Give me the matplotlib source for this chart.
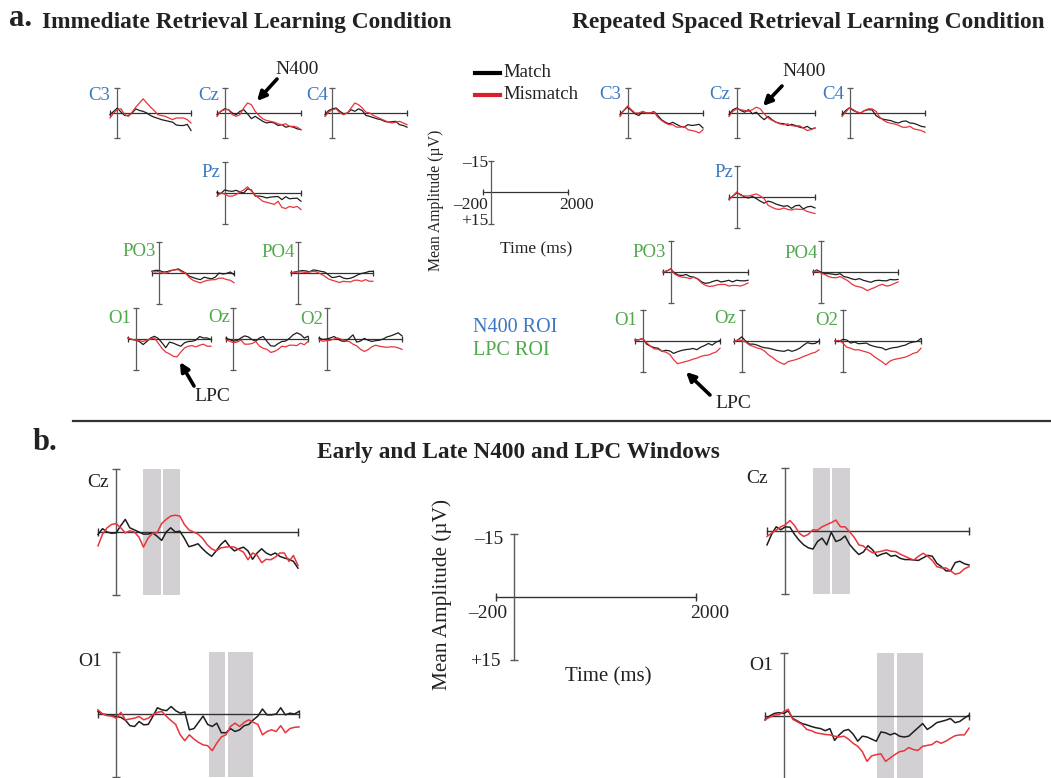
import numpy as np
import matplotlib.pyplot as plt

plt.rcParams['font.family'] = ['Liberation Serif', 'DejaVu Serif']

# time grids (ms)
t_a = np.arange(-200, 2001, 100)
t_b = np.arange(-200, 2001, 50)

# ---- a. Immediate retrieval (uV) ----
imm_c3_match = [1, -1, -3, -0.5, 1.5, 1.5, 0, -2.5, -1.5, -1, 0, 1.5, 2.5, 3.2, 4, 4.5, 5, 5.5, 7.2, 7.5, 7.5, 6.8, 10.5]
imm_c3_mismatch = [3, 0, -2, -2.5, 1, 2, -0.5, -3.5, -6, -8.5, -6, -3.5, -1.5, 1, 1.5, 2, 3, 4, 3, 3, 3, 4, 6]
imm_cz_match = [1, -1, -2.5, -2, 0, 1, -1, -2, 0.5, 3.4, 2, 3.5, 5, 6, 5.5, 6, 7.5, 7, 8.5, 8, 8.5, 9.5, 10]
imm_cz_mismatch = [2, -1, -2, -2, 1, 2, 1, -3, -6, -5, -1, 1.5, 3.5, 4.5, 5, 5.5, 6.5, 7, 6.5, 8, 8, 8.5, 10]
imm_c4_match = [1, -1.5, -2.5, -3, -1, 0.5, 0, -2, -1, -2.5, -1.5, 1.5, 2, 2.8, 3.5, 4, 5, 5.5, 5.2, 5, 7, 7.5, 8.5]
imm_c4_mismatch = [2, -0.5, -2, -2.5, 0, 1, 0, -3, -6, -5, -3, -0.5, 0, 1.5, 2.5, 3.5, 4.5, 5.5, 6, 5.5, 5, 6, 7]
imm_pz_match = [-0.3, 0.3, -1.5, -1, -0.8, -1.3, -0.5, 0, -2, -1.5, 1.5, 1.5, 1.8, 2.4, 2, 1.8, 1.7, 3.2, 1.8, 2.8, 2.6, 2.5, 4]
imm_pz_mismatch = [1.6, 0, 0.5, 1.5, 1.5, 0.8, -0.5, -1.5, -3, -1, 1, 2.5, 4, 4.5, 5, 5.5, 4, 7, 7.5, 6.5, 7, 6.5, 8]
imm_po3_match = [-0.8, -1.3, -1.2, -0.5, -0.6, -1.2, -1.5, -2, -1, 0, 1.5, 2.2, 2.8, 3.2, 2, 2.5, 2.8, 2, 0, 0.5, 0.2, -0.5, 0.8]
imm_po3_mismatch = [-0.8, -0.5, -0.8, 0.2, 0, -1, -1.5, -1.6, -0.5, 0, 2.2, 3.5, 4.2, 4.8, 4, 3.5, 3.3, 3.2, 2.5, 2.5, 3.2, 3.5, 4.7]
imm_po4_match = [0, -0.5, -0.8, -1.2, -1, -0.6, -1.5, -1.2, -0.8, -0.5, 0.8, 2.2, 2, 1.5, 2.4, 2.8, 2.5, 1.8, 0.8, 0.2, -0.2, -0.8, -0.8]
imm_po4_mismatch = [0, -0.3, -0.6, -0.5, -0.2, -0.5, -0.8, -0.5, 0.5, 1.5, 2.8, 3.5, 4, 4.6, 4, 4.2, 4.3, 3.5, 3.5, 4, 3.2, 4, 4]
imm_o1_match = [-0.5, 0.2, 0.5, 1.2, 2.7, 1.2, -0.5, -1.3, -0.3, 1.8, 4.2, 1.5, 2, 2.8, 3.5, 1.8, 1.2, 1.1, 0.5, -1.2, -0.5, -0.5, 0.3]
imm_o1_mismatch = [-0.5, 0.2, 0.5, 0.8, 1.2, 0.5, 0, -0.5, 2, 4.5, 6.3, 7.2, 8.4, 8.6, 6.3, 4.3, 3.5, 3.2, 3.8, 3, 2.5, 3.5, 3.5]
imm_oz_match = [-0.5, 0.3, 1, 0.8, -0.5, -1.5, -1, 0.3, 1, -0.5, -1.2, 1.2, 3.3, 3.5, 2.2, 1.2, 1, -0.3, -2, -3, -2.2, -0.5, -1.3]
imm_oz_mismatch = [0.3, 1.1, 1.8, 1.5, 0.5, 2.5, 2.5, 2.2, 1.2, 3.5, 4.5, 5, 6.5, 6, 5, 3.5, 3.8, 3, 3, 3.2, 2, 2.8, 1.2]
imm_o2_match = [-0.5, 0.2, 0, -0.5, -1.2, 0, 1, 1.2, -0.3, -2, 1.5, 1, -0.3, 0.6, 1.2, 0.8, 0.6, 0, -1, -1.5, -2.2, -3, -1.5]
imm_o2_mismatch = [0.3, 1.1, 0.8, 0.6, 0, -0.5, 0.2, 1, 1.2, 2.5, 3.3, 5, 6, 5.2, 3.8, 3, 3.5, 3.8, 4, 3.8, 3.8, 4.3, 5]

# ---- a. Repeated spaced retrieval ----
rep_c3_match = [1, -1.5, -3.5, -1.5, 0.5, 1.5, -0.8, 0, 0, -0.8, 1.5, 4, 5.5, 6.5, 5.6, 6.8, 8, 8.5, 7, 7.5, 7.2, 6.8, 9]
rep_c3_mismatch = [2, -1.5, -4.2, -2, 0, 0, -1, 0, 0, -0.8, 2.5, 4.5, 6, 7, 7, 8.5, 8.5, 8, 10, 10.5, 11, 12, 10]
rep_cz_match = [1, -2, -3, -1.5, -0.5, -2, 0.5, -0.5, 2, 4, 2, 4, 5.5, 6.2, 6.4, 7.5, 6.8, 7.5, 8.5, 9, 8, 9.6, 9]
rep_cz_mismatch = [2, -1, -2.5, -2, -1.5, -1, -2, -3.5, -2.5, 0.5, 3, 4.4, 5.5, 6.5, 7, 6.5, 7.5, 8, 7.6, 9, 10.5, 10, 9]
rep_c4_match = [1, -1.5, -3.2, -1.5, -0.5, 0, -1.5, -2, -1.8, 1.5, 3, 3.8, 4.2, 4.6, 5.5, 6, 5, 4.8, 6, 6.2, 7, 8, 8.4]
rep_c4_mismatch = [2, -0.5, -3.2, -2, -0.5, 0, -1.5, -2.5, -2.5, -1, 2.5, 4.4, 5.6, 6.2, 6.6, 7.4, 8.5, 8.6, 8, 9.5, 10, 10.5, 11.6]
rep_pz_match = [1, -0.5, -2, -1.2, 0, 0.5, -0.3, 0.8, 2, 3, 2, 2.5, 3.4, 4, 4.5, 4.2, 5.5, 4.2, 4, 5.8, 4.8, 4.5, 5.3]
rep_pz_mismatch = [1.3, -0.5, -2.5, -0.8, -0.5, -0.5, -1, -1.5, -0.5, 0.8, 4, 5, 5.8, 6, 5.3, 6, 6.3, 5.8, 6, 6, 7, 7.5, 8]
rep_po3_match = [0, -0.5, -1.5, 0.5, 1.5, 1.7, 1.2, 2.2, 2.5, 3.3, 4.8, 5.5, 5.2, 4.5, 4, 4.8, 4.5, 4, 4.8, 4, 4.2, 4.3, 4]
rep_po3_mismatch = [0, -0.5, -1.5, 1, 2, 2.5, 2.7, 3.2, 2.5, 3.5, 5.3, 6.5, 7, 6.8, 6.2, 6, 6, 6.8, 6.5, 6.5, 6.8, 6.2, 5.3]
rep_po4_match = [0, -1, 0, 0.8, 0.8, 1, 1.3, 0.8, 2.2, 2.6, 3.3, 3.7, 3.2, 4, 4.5, 5, 4.2, 4, 4.2, 4.3, 3.6, 3.8, 3.6]
rep_po4_mismatch = [0, -0.5, 0.5, 1.2, 2.2, 2.7, 2.8, 2.2, 3.2, 4.2, 5.8, 6.8, 7.2, 7.8, 9, 8.2, 7.5, 6.5, 6, 6.8, 6.5, 5.6, 4.8]
rep_o1_match = [-0.5, -0.6, -1.2, 1.5, 2.5, 3.2, 3.5, 5, 4.5, 4.8, 6, 5.2, 4.6, 4.2, 4, 3.6, 4.2, 3, 2.2, 1.2, 2, 0.5, -0.2]
rep_o1_mismatch = [-0.5, -0.6, -1.2, 0.8, 2.5, 3.8, 4, 5, 5.4, 6.5, 9, 11, 10.5, 10, 9.5, 8.8, 8.3, 7.5, 7, 6.8, 6, 5.3, 3.5]
rep_oz_match = [0.3, -0.5, -2, 0, 1.5, 1.5, 2, 2.8, 3.3, 3.5, 4, 4.5, 4.8, 5, 4.3, 5, 4.4, 3.5, 2, 0.8, 1.3, 1.2, 0]
rep_oz_mismatch = [0.3, -0.5, -0.3, 0.5, 2, 2.6, 3.4, 3.8, 5, 6.8, 8, 9.5, 10.5, 11.3, 10, 9.5, 9, 8.3, 7.5, 6.8, 6, 5.5, 4.3]
rep_o2_match = [0, 0.3, -0.8, -0.5, 1, 0.5, 1.3, 1.2, 1, 2, 2.6, 3, 3.3, 4.3, 3.6, 3.2, 3, 2.4, 2, 1, 0.5, 0.2, -1.2]
rep_o2_mismatch = [0, -0.3, 1, 3, 3.5, 4.3, 4.2, 4.8, 5.3, 6, 7.5, 8.8, 10, 11.5, 9.8, 9, 8.6, 8.2, 7.8, 7, 6, 5.5, 3.5]

# ---- b. enlarged Cz / O1 ----
imm_b_cz_match = [0.6, -0.8, 0.0, 0.3, 0.2, -1.5, -3.0, -1.0, -0.5, 0.0,
                  0.5, 0.5, 0.2, 1.0, 2.0, 0.0, -1.0, 0.0, -0.2, 1.5,
                  3.5, 3.2, 2.8, 4.0, 5.0, 5.8, 4.5, 3.0, 2.0, 3.5,
                  4.5, 4.0, 3.6, 4.5, 6.5, 5.0, 4.0, 5.0, 5.5, 5.0,
                  5.8, 6.2, 6.5, 7.0, 8.6]
imm_b_cz_mismatch = [3.3, 0.5, -1.0, -1.8, -2.0, -1.0, 0.2, -0.3, 0.0, 1.2,
                     3.6, 1.5, 0.3, 0.2, -2.0, -3.0, -3.8, -4.0, -3.8, -1.8,
                     -0.5, 0.0, 0.5, 1.5, 3.0, 4.0, 4.5, 3.8, 3.6, 3.5,
                     3.6, 4.2, 4.8, 6.6, 5.0, 5.5, 7.3, 6.5, 6.6, 6.0,
                     5.0, 5.0, 7.0, 5.6, 8.0]
imm_b_o1_match = [-0.6, 0.0, 0.2, 0.4, 0.6, 0.8, 1.5, 2.8, 3.0, 1.8,
                  2.6, 2.5, 0.6, -1.5, -1.0, -0.8, -1.8, -0.8, -0.2, -0.5,
                  3.8, 3.5, 2.0, 0.5, 2.5, 3.0, 2.2, 4.5, 4.5, 3.5,
                  4.2, 3.8, 2.8, 2.5, 1.4, 0.5, -1.2, 0.2, 0.2, 0.0,
                  -1.5, 0.2, -0.2, 0.0, -0.6]
imm_b_o1_mismatch = [-1.0, 0.0, 0.4, 0.5, 1.0, -0.4, 1.4, 1.2, 1.0, 0.6,
                     1.4, 1.0, 0.2, -0.4, -0.6, 0.6, 1.6, 2.5, 5.0, 6.4,
                     5.0, 6.0, 6.8, 7.4, 7.6, 8.8, 7.0, 5.5, 5.0, 3.0,
                     2.2, 3.0, 2.0, 1.4, 2.0, 2.5, 5.0, 4.2, 3.8, 4.2,
                     2.8, 4.5, 3.5, 3.2, 3.1]
rep_b_cz_match = [3.3, 0.8, -1.0, -0.3, -1.0, -0.9, 0.8, 2.2, 3.3, 4.0,
                  4.3, 2.5, 1.7, 3.3, 0.3, 2.5, 2.1, 1.2, 3.2, 4.5,
                  5.6, 5.0, 3.5, 4.5, 6.0, 5.5, 5.2, 6.0, 5.8, 6.5,
                  6.8, 6.8, 6.9, 7.0, 6.4, 5.8, 6.0, 7.7, 8.5, 9.5,
                  9.5, 7.5, 7.2, 7.8, 8.1]
rep_b_cz_mismatch = [1.3, 0.5, -0.2, -1.0, -1.5, -2.5, -1.3, 0.5, 1.3, 0.8,
                     -0.3, -0.2, -1.0, -1.5, -2.0, -2.6, -1.0, -1.0, 0.2, 1.5,
                     3.3, 3.6, 4.5, 5.2, 5.0, 4.8, 4.5, 4.8, 4.9, 5.5,
                     6.0, 6.5, 6.9, 6.0, 5.3, 6.0, 7.0, 8.5, 8.8, 8.8,
                     9.5, 10.3, 10.0, 9.0, 8.5]
rep_b_o1_match = [0.9, 0.0, -0.6, -0.8, -0.6, -1.2, 0.6, 1.2, 1.8, 2.1,
                  2.5, 2.8, 3.0, 3.5, 3.0, 5.8, 4.5, 3.5, 3.2, 4.3,
                  6.0, 4.8, 5.0, 5.5, 6.0, 3.8, 4.0, 4.5, 4.1, 4.8,
                  5.0, 4.8, 3.8, 2.8, 1.8, 3.2, 2.5, 1.6, 1.3, 1.0,
                  0.6, 1.6, 1.3, 0.5, -0.2]
rep_b_o1_mismatch = [0.9, 0.3, -0.2, -0.3, -1.0, -1.6, 0.8, 1.4, 2.0, 3.2,
                     3.5, 4.0, 4.2, 4.4, 4.5, 4.8, 5.0, 4.8, 5.5, 6.5,
                     7.2, 8.5, 10.8, 9.5, 9.2, 9.0, 10.8, 10.0, 9.2, 8.5,
                     8.3, 7.5, 8.0, 8.2, 7.2, 7.0, 6.8, 6.0, 6.5, 6.0,
                     5.3, 4.7, 4.5, 4.5, 2.9]

# analysis windows (ms)
cz_windows = [(300, 490), (510, 700)]
o1_windows = [(1010, 1195), (1220, 1500)]

W, H = 1051, 778
BLUE = '#3b78c1'
GREEN = '#4fa84b'
RED = '#e8343c'
BLACK = '#1e1e1e'
SHADE = '#d3d0d3'

fig = plt.figure(figsize=(W / 100, H / 100), dpi=100)
ov = fig.add_axes([0, 0, 1, 1])
ov.set_xlim(0, W)
ov.set_ylim(H, 0)
ov.axis('off')


def panel(x0, x1, yz, hh, lw=0.9, cap=4):
    # one ERP axis cross: -200..2000 ms horizontally, -15 (up) .. +15 (down)
    ax = fig.add_axes([x0 / W, 1 - (yz + hh) / H, (x1 - x0) / W, 2 * hh / H])
    ax.set_xlim(-200, 2000)
    ax.set_ylim(15, -15)
    ax.axis('off')
    ax.plot([-200, 2000], [0, 0], color='#333333', lw=lw, clip_on=False, zorder=2)
    ax.plot([0, 0], [-15, 15], color='#5a5a5a', lw=lw, clip_on=False, zorder=2)
    ax.plot([-200, 2000], [0, 0], ls='none', marker='|', ms=cap, mew=lw,
            color='#333333', clip_on=False, zorder=2)
    ax.plot([0, 0], [-15, 15], ls='none', marker='_', ms=cap, mew=lw,
            color='#5a5a5a', clip_on=False, zorder=2)
    return ax


def waves(ax, t, match, mismatch, lw=0.9):
    ax.plot(t, match, color=BLACK, lw=lw, clip_on=False, zorder=3)
    ax.plot(t, mismatch, color=RED, lw=lw, clip_on=False, zorder=4)


# ---------- part a small panels ----------
imm_panels = [
    ('C3', BLUE, 110, 191, 113, 25, 99, 95, imm_c3_match, imm_c3_mismatch),
    ('Cz', BLUE, 217, 301, 113, 25, 209, 95, imm_cz_match, imm_cz_mismatch),
    ('C4', BLUE, 325, 407, 113, 25, 317, 95, imm_c4_match, imm_c4_mismatch),
    ('Pz', BLUE, 217, 301, 193, 31, 211, 172, imm_pz_match, imm_pz_mismatch),
    ('PO3', GREEN, 152, 234, 273, 31, 139, 251, imm_po3_match, imm_po3_mismatch),
    ('PO4', GREEN, 291, 373, 273, 31, 278, 252, imm_po4_match, imm_po4_mismatch),
    ('O1', GREEN, 128, 211, 339, 31, 120, 318, imm_o1_match, imm_o1_mismatch),
    ('Oz', GREEN, 226, 308, 339, 31, 219, 317, imm_oz_match, imm_oz_mismatch),
    ('O2', GREEN, 319, 402, 339, 31, 312, 319, imm_o2_match, imm_o2_mismatch),
]
rep_panels = [
    ('C3', BLUE, 620, 703, 113, 25, 610, 94, rep_c3_match, rep_c3_mismatch),
    ('Cz', BLUE, 729, 815, 113, 25, 720, 94, rep_cz_match, rep_cz_mismatch),
    ('C4', BLUE, 842, 925, 113, 25, 833, 94, rep_c4_match, rep_c4_mismatch),
    ('Pz', BLUE, 729, 815, 197, 31, 724, 172, rep_pz_match, rep_pz_mismatch),
    ('PO3', GREEN, 663, 748, 272, 31, 649, 252, rep_po3_match, rep_po3_mismatch),
    ('PO4', GREEN, 813, 898, 272, 31, 801, 253, rep_po4_match, rep_po4_mismatch),
    ('O1', GREEN, 635, 720, 341, 31, 626, 320, rep_o1_match, rep_o1_mismatch),
    ('Oz', GREEN, 734, 819, 341, 31, 725, 318, rep_oz_match, rep_oz_mismatch),
    ('O2', GREEN, 835, 921, 341, 31, 827, 320, rep_o2_match, rep_o2_mismatch),
]

for name, col, x0, x1, yz, hh, lx, ly, m, mm in imm_panels + rep_panels:
    ax = panel(x0, x1, yz, hh)
    waves(ax, t_a, m, mm)
    ov.text(lx, ly, name, color=col, fontsize=13.5, ha='center', va='center')

# part a scale bar + legend
ax = panel(483, 568, 192, 31.5)
ov.text(488, 163, '\u201315', fontsize=12.5, ha='right', va='center', color='#222')
ov.text(488, 205, '\u2013200', fontsize=12.5, ha='right', va='center', color='#222')
ov.text(488, 221, '+15', fontsize=12.5, ha='right', va='center', color='#222')
ov.text(577, 205, '2000', fontsize=12.5, ha='center', va='center', color='#222')
ov.text(536, 249, 'Time (ms)', fontsize=12.5, ha='center', va='center', color='#222')
ov.text(436, 200, 'Mean Amplitude (\u00b5V)', fontsize=11.3, rotation=90,
        ha='center', va='center', color='#222')

ov.plot([475, 500], [73, 73], color='black', lw=3)
ov.plot([475, 500], [95, 95], color='#d8202a', lw=3)
ov.text(503, 72, 'Match', fontsize=13.5, ha='left', va='center', color='#222')
ov.text(503, 94, 'Mismatch', fontsize=13.5, ha='left', va='center', color='#222')

ov.text(473, 327, 'N400 ROI', fontsize=14.5, ha='left', va='center', color=BLUE)
ov.text(473, 350, 'LPC ROI', fontsize=14.5, ha='left', va='center', color=GREEN)

# annotations
arrow = dict(arrowstyle='-|>', lw=2.6, color='black', mutation_scale=13,
             shrinkA=0, shrinkB=0)
ov.text(297, 69, 'N400', fontsize=14, ha='center', va='center', color='#222')
ov.annotate('', xy=(257, 101), xytext=(277, 79), arrowprops=arrow)
ov.text(804, 71, 'N400', fontsize=14, ha='center', va='center', color='#222')
ov.annotate('', xy=(763, 106), xytext=(782, 86), arrowprops=arrow)
ov.text(212, 396, 'LPC', fontsize=14, ha='center', va='center', color='#222')
ov.annotate('', xy=(180, 362), xytext=(194, 386), arrowprops=arrow)
ov.text(733, 403, 'LPC', fontsize=14, ha='center', va='center', color='#222')
ov.annotate('', xy=(686, 372), xytext=(710, 395), arrowprops=arrow)

# titles
ov.text(9, 26, 'a.', fontsize=22, fontweight='bold', ha='left', va='baseline', color='#222')
ov.text(42, 28, 'Immediate Retrieval Learning Condition', fontsize=16.8,
        fontweight='bold', ha='left', va='baseline', color='#222')
ov.text(1045, 28, 'Repeated Spaced Retrieval Learning Condition', fontsize=16.8,
        fontweight='bold', ha='right', va='baseline', color='#222')
ov.plot([73, 1051], [421, 421], color='#333333', lw=1.6)
ov.text(33, 450, 'b.', fontsize=22, fontweight='bold', ha='left', va='baseline', color='#222')
ov.text(518, 458, 'Early and Late N400 and LPC Windows', fontsize=16.8,
        fontweight='bold', ha='center', va='baseline', color='#222')

# ---------- part b ----------
big = [
    ('Cz', 98, 298, 532, 63, 98, 482, cz_windows, imm_b_cz_match, imm_b_cz_mismatch),
    ('O1', 98, 299, 714, 62.5, 90, 662, o1_windows, imm_b_o1_match, imm_b_o1_mismatch),
    ('Cz', 767, 969, 531, 63, 757, 478, cz_windows, rep_b_cz_match, rep_b_cz_mismatch),
    ('O1', 765, 969, 716, 63, 761, 665, o1_windows, rep_b_o1_match, rep_b_o1_mismatch),
]
for name, x0, x1, yz, hh, lx, ly, wins, m, mm in big:
    ax = panel(x0, x1, yz, hh, lw=1.0, cap=6)
    for a0, a1 in wins:
        ax.axvspan(a0, a1, color=SHADE, lw=0, zorder=0)
    waves(ax, t_b, m, mm, lw=1.1)
    ov.text(lx, ly, name, fontsize=14, ha='center', va='center', color='#222')

ax = panel(496, 696, 597, 63, lw=1.0, cap=6)
ov.text(503, 540, '\u201315', fontsize=14, ha='right', va='center', color='#222')
ov.text(507, 613, '\u2013200', fontsize=14, ha='right', va='center', color='#222')
ov.text(710, 613, '2000', fontsize=14, ha='center', va='center', color='#222')
ov.text(501, 662, '+15', fontsize=14, ha='right', va='center', color='#222')
ov.text(608, 677, 'Time (ms)', fontsize=15, ha='center', va='center', color='#222')
ov.text(442, 595, 'Mean Amplitude (\u00b5V)', fontsize=15.3, rotation=90,
        ha='center', va='center', color='#222')

fig.savefig('out.png', dpi=100)
